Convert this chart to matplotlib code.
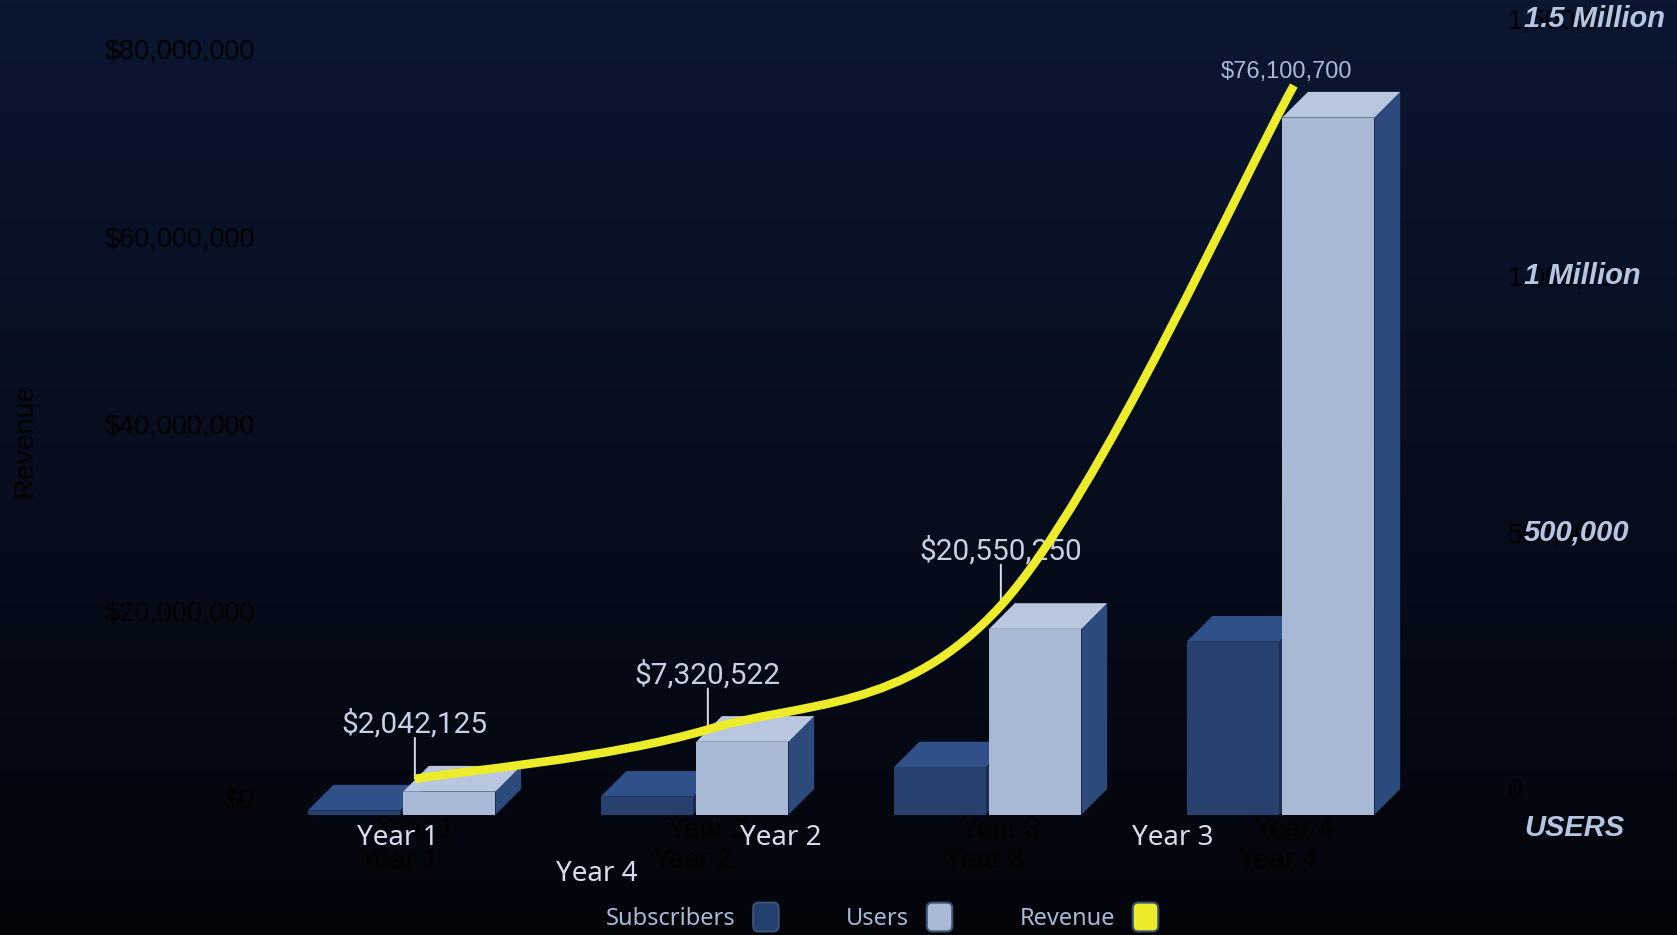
import numpy as np
import matplotlib.pyplot as plt
from matplotlib.patches import Polygon, Patch, FancyBboxPatch, PathPatch
from matplotlib.path import Path
from matplotlib.legend_handler import HandlerPatch
from matplotlib.colors import to_rgb

# data
years = ['Year 1', 'Year 2', 'Year 3', 'Year 4']
subscribers = [8000, 35000, 92000, 337000]
users = [45000, 142000, 362000, 1358000]
revenue = [2042125, 7320522, 20550250, 76100700]
revenue_ticks = [0, 20000000, 40000000, 60000000, 80000000]
users_ticks = [0, 500000, 1000000, 1500000]
users_overlay = ['500,000', '1 Million', '1.5 Million']

W, H = 1677, 935
fig = plt.figure(figsize=(W / 100, H / 100), dpi=100)

# background gradient
bg = fig.add_axes([0, 0, 1, 1])
top, bot = np.array(to_rgb('#0b1631')), np.array(to_rgb('#03050b'))
t = np.linspace(0, 1, 256)[:, None]
grad = top * (1 - t) + bot * t
bg.imshow(grad[:, None, :].repeat(2, axis=1), aspect='auto', extent=[0, 1, 0, 1])
bg.set_axis_off()


def box(l, t, r, b):
    return [l / W, 1 - b / H, (r - l) / W, (b - t) / H]


def fpx(x, y):
    return x / W, 1 - y / H


L, T, R, B = 265, 10, 1500, 830
ax = fig.add_axes(box(L, T, R, B))
ax.patch.set_visible(False)
x0, xs = 402, 293.0
ax.set_xlim((L - x0) / xs, (R - x0) / xs)
u0, us = 789, 770 / 1.5e6
ax.set_ylim((u0 - B) / us, (u0 - T) / us)

bw = 0.315
dx = 25.7 / xs
dy = 25.7 / us

sub_c = dict(front='#27406e', top='#2f5088', side='#1c2e52')
usr_c = dict(front='#a9b9d5', top='#b9c6df', side='#2c4b7c')


def bar3d(xl, v, c):
    ax.add_patch(Polygon([(xl + bw, -dy), (xl + bw + dx, 0), (xl + bw + dx, v), (xl + bw, v - dy)],
                         facecolor=c['side'], edgecolor='none', zorder=2))
    ax.add_patch(Polygon([(xl, v - dy), (xl + bw, v - dy), (xl + bw + dx, v), (xl + dx, v)],
                         facecolor=c['top'], edgecolor='none', zorder=2))
    ax.bar(xl, v, width=bw, bottom=-dy, align='edge', color=c['front'], zorder=2)


for i in range(len(years)):
    bar3d(i - 0.322, subscribers[i], sub_c)
    bar3d(i + 0.004, users[i], usr_c)

# revenue axis (left), twin of the users axes
axr = ax.twinx()
axr.set_position(box(L, T, R, B))
r0, rs = 798, 749 / 80e6
axr.set_ylim((r0 - B) / rs, (r0 - T) / rs)
axr.yaxis.tick_left()
axr.yaxis.set_label_position('left')
axr.set_yticks(revenue_ticks)
axr.set_yticklabels([f'${v:,}' for v in revenue_ticks], family='Liberation Sans', fontsize=19.5, color='black')
axr.tick_params(axis='y', length=0, pad=7.2)
for s in axr.spines.values():
    s.set_visible(False)
fig.text(*fpx(25, 440), 'Revenue', rotation=90, ha='center', va='center',
         family='Liberation Sans', fontsize=20.5, color='black')

# right (users) axis
ax.yaxis.tick_right()
ax.set_yticks(users_ticks)
ax.set_yticklabels([f'{v:,}' for v in users_ticks], family='Liberation Sans', fontsize=19.5, color='black')
ax.tick_params(axis='y', length=0, pad=5.8, left=False, labelleft=False, right=True, labelright=True)
ax.set_xticks([i - 0.01 for i in range(len(years))])
ax.set_xticklabels(years, family='Liberation Sans', fontsize=20, color='black')
ax.tick_params(axis='x', length=0, pad=13)
for s in ax.spines.values():
    s.set_visible(False)

# overlay labels on right axis
for v, lab in zip(users_ticks[1:], users_overlay):
    ax.text(1 + 24 / (R - L), v, lab, transform=ax.get_yaxis_transform(), ha='left', va='center',
            family='Liberation Sans', weight='bold', style='italic', fontsize=21, color='#b6c6e0')
fig.text(*fpx(1524, 828), 'USERS', ha='left', va='center', family='Liberation Sans',
         weight='bold', style='italic', fontsize=21, color='#b6c6e0')

# smooth revenue curve (catmull-rom as bezier)
rx = [i + dx / 2 for i in range(len(years))]
pts = np.column_stack([rx, revenue]).astype(float)
ext = np.vstack([pts[0], pts, pts[-1]])
verts = [pts[0]]
codes = [Path.MOVETO]
for k in range(len(pts) - 1):
    p0, p1, p2, p3 = ext[k], ext[k + 1], ext[k + 2], ext[k + 3]
    verts += [p1 + (p2 - p0) / 6, p2 - (p3 - p1) / 6, p2]
    codes += [Path.CURVE4] * 3
axr.add_patch(PathPatch(Path(verts, codes), fill=False, edgecolor='#ecec2a', lw=6.2,
                        capstyle='butt', zorder=5))

# value labels
for k in range(3):
    axr.annotate('', xy=(rx[k], revenue[k]), xytext=(0, 29.5), textcoords='offset points',
                 arrowprops=dict(arrowstyle='-', color='#d8dee8', lw=1.4, shrinkA=0, shrinkB=0))
    axr.annotate(f'${revenue[k]:,}', xy=(rx[k], revenue[k]), xytext=(0, 39.6), textcoords='offset points',
                 ha='center', va='center', family='Roboto', fontsize=21.5, color='#c5d0e4')
axr.annotate(f'${revenue[3]:,}', xy=(rx[3], revenue[3]), xytext=(-5, 9.4), textcoords='offset points',
             ha='center', va='center', family='Liberation Sans', fontsize=17, color='#a9b9d5')

# duplicated category labels
for i, y in enumerate(years):
    fig.text(*fpx(x0 + rx[i] * xs, 830), y, ha='center', va='center',
             family='Liberation Sans', fontsize=20, color='black')
white_pos = [(398, 838), (781, 838), (1173, 838), (597, 874)]
for (px, py), y in zip(white_pos, years):
    fig.text(*fpx(px, py), y, ha='center', va='center', family='Noto Sans', fontsize=20, color='#d6deee')

# legend
handles = [Patch(facecolor='#233f6e', edgecolor='#3e5274', lw=1.5),
           Patch(facecolor='#a9b9d5', edgecolor='#3e5274', lw=1.5),
           Patch(facecolor='#ecec2a', edgecolor='#3e5274', lw=1.5)]


def rounded(legend, orig_handle, xdescent, ydescent, width, height, fontsize):
    return FancyBboxPatch((-xdescent, -ydescent), width, height,
                          boxstyle='round,pad=0,rounding_size=4')


leg = fig.legend(handles, ['Subscribers', 'Users', 'Revenue'], loc='center', bbox_to_anchor=fpx(882, 917),
                 ncol=3, frameon=False, markerfirst=False, handlelength=1.08, handleheight=1.5,
                 handletextpad=0.75, columnspacing=2.85, prop=dict(family='Noto Sans', size=17),
                 handler_map={Patch: HandlerPatch(patch_func=rounded)})
for tx in leg.get_texts():
    tx.set_color('#a9b9d5')

fig.savefig('out.png', dpi=100)
